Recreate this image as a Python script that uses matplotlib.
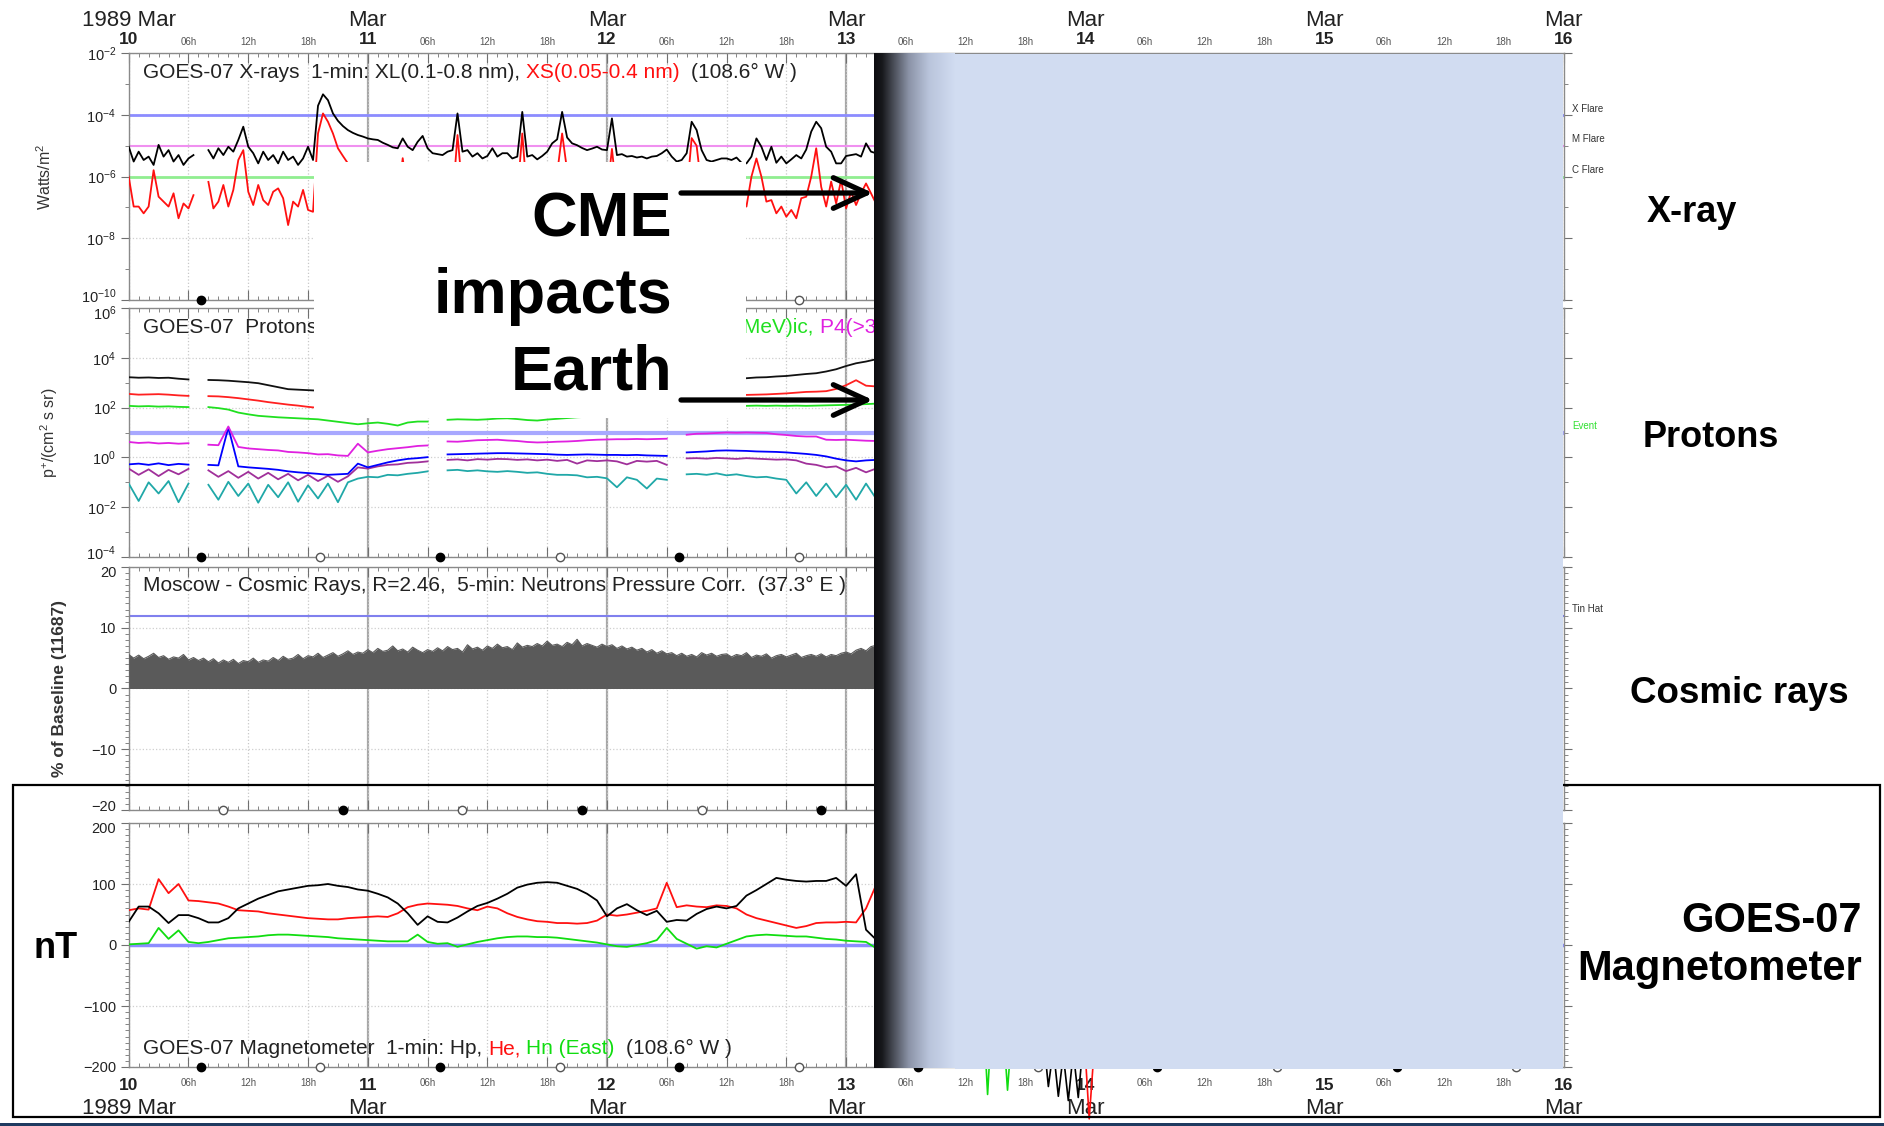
import numpy as np
import matplotlib.pyplot as plt
from matplotlib.patches import Rectangle
from matplotlib.colors import LinearSegmentedColormap
from matplotlib.ticker import NullFormatter, MultipleLocator
from matplotlib.transforms import ScaledTranslation

plt.rcParams['font.family'] = ['Liberation Sans', 'DejaVu Sans']
plt.rcParams['mathtext.fontset'] = 'custom'
plt.rcParams['mathtext.rm'] = 'Liberation Sans'
plt.rcParams['mathtext.it'] = 'Liberation Sans:italic'
plt.rcParams['mathtext.bf'] = 'Liberation Sans:bold'

nan = np.nan

# GOES-07 X-rays, log10(W/m^2), every 30 min from 1989-03-10 00 UT
xl_log = [-5.03, -5.51, -5.19, -5.46, -5.35, -5.62, -4.97, -5.35, -5.14, -5.51, -5.30, -5.62,
          -5.41, -5.30, nan, nan, -5.14, -5.41, -5.08, -5.30, -5.03, -5.19, -4.81, -4.38,
          -5.03, -5.24, -5.57, -5.19, -5.46, -5.30, -5.57, -5.19, -5.46, -5.35, -5.62, -5.41,
          -5.03, -5.46, -3.70, -3.33, -3.52, -3.95, -4.19, -4.36, -4.49, -4.58, -4.65, -4.70,
          -4.76, -4.79, -4.81, -4.90, -4.97, -5.05, -5.08, -4.76, -5.03, -5.14, -4.87, -4.68,
          -5.08, -5.24, -5.27, -5.30, -5.19, -5.14, -3.95, -5.19, -5.14, -5.35, -5.24, -5.41,
          -5.33, -5.08, -5.35, -5.24, -5.24, -5.41, -5.35, -3.90, -5.35, -5.30, -5.44, -5.33,
          -5.19, -4.92, -4.79, -3.90, -4.73, -4.92, -4.98, -5.07, -5.14, -5.09, -5.03, -5.12,
          -5.14, -4.11, -5.30, -5.27, -5.35, -5.33, -5.38, -5.35, -5.41, -5.35, -5.33, -5.24,
          -5.12, -5.35, -5.51, -5.46, -5.24, -4.22, -4.49, -5.14, -5.46, -5.51, -5.46, -5.41,
          -5.41, -5.46, -5.38, -5.55, -5.57, -5.35, -4.76, -5.03, -5.46, -5.03, -5.55, -5.35,
          -5.57, -5.44, -5.30, -5.41, -5.12, -4.54, -4.22, -4.43, -5.03, -5.19, -5.57, -5.57,
          -5.33, -5.30, -5.27, -5.35, -4.92, -5.19, -5.24, -5.30, -5.20]
xs_log = [-6.00, -6.97, -6.97, -7.19, -6.97, -5.79, -6.65, -6.81, -6.97, -6.54, -7.35, -6.87,
          -7.03, -6.60, nan, nan, -6.17, -7.03, -6.81, -6.27, -6.97, -6.43, -5.46, -5.14,
          -6.49, -6.92, -6.27, -6.76, -6.92, -6.49, -6.38, -6.70, -7.57, -6.81, -6.97, -6.43,
          -7.08, -7.14, -4.60, -3.95, -4.22, -4.60, -5.08, -5.33, -5.57, -5.80, -6.00, -6.20,
          -6.35, -6.50, -6.62, -6.45, -6.70, -6.58, -6.75, -5.40, -6.60, -6.82, -6.55, -5.90,
          -6.70, -6.85, -6.60, -6.90, -6.65, -6.80, -4.65, -6.50, -6.72, -6.90, -6.60, -6.85,
          -6.70, -6.55, -6.80, -6.62, -6.75, -6.90, -6.60, -4.60, -6.70, -6.85, -6.58, -6.72,
          -6.40, -6.10, -5.90, -4.60, -5.80, -6.20, -6.40, -6.55, -6.60, -6.75, -6.50, -6.70,
          -6.60, -5.10, -6.65, -6.80, -6.70, -6.90, -6.75, -6.85, -6.60, -6.80, -6.95, -6.70,
          -6.55, -6.85, -7.00, -6.90, -6.60, -4.75, -5.00, -6.40, -6.85, -7.00, -6.90, -6.95,
          -6.80, -6.95, -7.05, -6.90, -6.97, -6.00, -5.41, -6.00, -6.81, -6.76, -7.19, -6.97,
          -7.30, -7.08, -7.35, -6.70, -6.65, -6.00, -5.08, -6.33, -6.97, -6.16, -6.87, -6.11,
          -7.03, -6.49, -6.92, -6.54, -6.22, -6.54, -6.87, -6.60, -6.70]

# GOES-07 protons P1..P7, log10(p+/(cm2 s sr)), hourly
p1_log = [3.22, 3.20, 3.21, 3.19, 3.20, 3.16, 3.13, nan, 3.11, 3.10, 3.08, 3.05,
          3.02, 2.98, 2.90, 2.82, 2.74, 2.72, 2.70, 2.68, 2.62, 2.55, 2.50, 2.46,
          2.44, 2.42, 2.40, 2.38, 2.37, 2.36, 2.35, nan, 2.40, 2.42, 2.44, 2.46,
          2.48, 2.50, 2.52, 2.54, 2.55, 2.56, 2.58, 2.60, 2.62, 2.64, 2.66, 2.68,
          2.70, 2.74, 2.78, 2.82, 2.86, 2.90, 2.94, nan, 3.00, 3.04, 3.08, 3.10,
          3.12, 3.15, 3.18, 3.21, 3.22, 3.25, 3.27, 3.31, 3.35, 3.38, 3.45, 3.54,
          3.67, 3.78, 3.85, 3.94, 3.98]
p2_log = [2.55, 2.52, 2.53, 2.54, 2.52, 2.49, 2.47, nan, 2.46, 2.45, 2.42, 2.38,
          2.33, 2.28, 2.22, 2.17, 2.12, 2.08, 2.03, 1.99, 1.95, 1.92, 1.90, 1.88,
          1.86, 1.85, 1.84, 1.83, 1.83, 1.84, 1.85, nan, 1.90, 1.92, 1.95, 1.97,
          2.00, 2.02, 2.04, 2.06, 2.08, 2.10, 2.12, 2.14, 2.16, 2.18, 2.20, 2.22,
          2.24, 2.26, 2.28, 2.30, 2.32, 2.34, 2.36, nan, 2.40, 2.42, 2.44, 2.46,
          2.48, 2.50, 2.51, 2.52, 2.53, 2.55, 2.57, 2.60, 2.63, 2.64, 2.66, 2.75,
          2.90, 3.10, 2.88, 2.85, 2.86]
p3_log = [2.07, 2.05, 2.06, 2.04, 2.05, 2.03, 2.02, nan, 2.02, 1.98, 1.92, 1.80,
          1.73, 1.67, 1.64, 1.61, 1.59, 1.57, 1.55, 1.53, 1.48, 1.43, 1.38, 1.33,
          1.37, 1.40, 1.35, 1.28, 1.40, 1.44, 1.44, nan, 1.51, 1.53, 1.52, 1.51,
          1.53, 1.56, 1.57, 1.54, 1.50, 1.48, 1.52, 1.55, 1.58, 1.61, 1.63, 1.65,
          1.70, 1.75, 1.80, 1.85, 1.90, 1.95, 2.00, nan, 2.02, 2.03, 2.04, 2.05,
          2.06, 2.06, 2.07, 2.08, 2.07, 2.08, 2.07, 2.08, 2.07, 2.08, 2.09, 2.10,
          2.11, 2.12, 2.14, 2.16, 2.17]
p4_log = [0.62, 0.58, 0.60, 0.56, 0.58, 0.55, 0.57, nan, 0.51, 0.49, 1.24, 0.42,
          0.36, 0.33, 0.30, 0.28, 0.22, 0.20, 0.17, 0.12, 0.13, 0.08, 0.06, 0.55,
          0.20, 0.27, 0.33, 0.37, 0.41, 0.46, 0.48, nan, 0.64, 0.63, 0.66, 0.69,
          0.70, 0.71, 0.68, 0.66, 0.62, 0.60, 0.61, 0.63, 0.64, 0.66, 0.69, 0.71,
          0.72, 0.73, 0.73, 0.74, 0.73, 0.74, 0.75, nan, 0.91, 0.95, 0.96, 0.98,
          1.00, 0.99, 1.00, 0.99, 0.98, 0.93, 0.90, 0.86, 0.84, 0.84, 0.71, 0.70,
          0.71, 0.69, 0.67, 0.66, 0.66]
p5_log = [-0.28, -0.25, -0.30, -0.24, -0.31, -0.26, -0.29, nan, -0.30, -0.32, 1.20, -0.36,
          -0.40, -0.43, -0.46, -0.50, -0.56, -0.60, -0.63, -0.66, -0.70, -0.68, -0.66, -0.25,
          -0.40, -0.30, -0.20, -0.12, -0.06, -0.03, 0.01, nan, 0.12, 0.13, 0.14, 0.15,
          0.16, 0.17, 0.17, 0.16, 0.15, 0.14, 0.13, 0.11, 0.10, 0.11, 0.12, 0.11,
          0.10, 0.10, 0.09, 0.10, 0.08, 0.07, 0.06, nan, 0.20, 0.22, 0.24, 0.27,
          0.28, 0.27, 0.26, 0.24, 0.23, 0.22, 0.20, 0.17, 0.14, 0.10, 0.04, -0.05,
          -0.12, -0.16, -0.12, -0.10, -0.11]
p6_log = [-0.45, -0.70, -0.48, -0.75, -0.50, -0.68, -0.46, nan, -0.52, -0.78, -0.55, -0.82,
          -0.58, -0.85, -0.62, -0.88, -0.66, -0.92, -0.70, -0.95, -0.74, -0.98, -0.76, -0.40,
          -0.45, -0.36, -0.30, -0.28, -0.22, -0.20, -0.16, nan, -0.10, -0.08, -0.12, -0.07,
          -0.09, -0.06, -0.07, -0.10, -0.08, -0.12, -0.09, -0.14, -0.10, -0.25, -0.12, -0.15,
          -0.12, -0.16, -0.28, -0.14, -0.17, -0.14, -0.30, nan, -0.04, -0.03, -0.05, -0.02,
          -0.04, -0.06, -0.03, -0.05, -0.07, -0.09, -0.08, -0.12, -0.25, -0.30, -0.40, -0.36,
          -0.55, -0.42, -0.60, -0.45, -0.58]
p7_log = [-1.05, -1.75, -1.00, -1.45, -0.95, -1.80, -1.05, nan, -1.10, -1.70, -0.98, -1.55,
          -1.05, -1.82, -1.10, -1.60, -1.00, -1.78, -1.12, -1.65, -1.05, -1.80, -1.00, -0.85,
          -0.78, -0.80, -0.70, -0.72, -0.66, -0.62, -0.56, nan, -0.52, -0.50, -0.55, -0.52,
          -0.56, -0.58, -0.55, -0.58, -0.62, -0.60, -0.66, -0.70, -0.70, -0.72, -0.80, -0.78,
          -0.84, -1.20, -0.80, -0.90, -1.25, -0.85, -0.90, nan, -0.68, -0.66, -0.70, -0.64,
          -0.72, -0.68, -0.75, -0.80, -0.78, -0.85, -0.90, -1.45, -1.00, -1.55, -1.05, -1.60,
          -1.10, -1.70, -1.05, -1.65, -1.10]

# Moscow neutron monitor, % of baseline, every 30 min
cosmic_pct = [5.6, 5.0, 5.5, 4.9, 5.3, 5.8, 5.1, 5.4, 4.8, 5.2, 5.0, 5.6, 4.7, 5.1, 4.6, 5.0, 4.4, 4.9, 4.2, 4.7, 4.3,
              4.8, 4.1, 4.6, 4.4, 5.0, 4.3, 4.7, 4.5, 5.1, 4.6, 5.3, 4.8, 5.0, 5.6, 4.9, 5.4, 5.2, 5.8, 5.1, 5.5,
              5.9, 5.3, 5.7, 6.2, 5.6, 6.0, 5.8, 6.4, 5.9, 6.6, 6.1, 6.3, 7.0, 6.2, 6.5, 6.0, 6.8, 6.3, 5.9, 6.4,
              6.1, 6.7, 6.2, 6.9, 6.4, 6.6, 6.0, 7.2, 6.5, 6.8, 6.3, 7.0, 6.6, 7.3, 6.7, 6.9, 6.4, 7.5, 6.8, 7.1,
              6.9, 7.4, 7.0, 7.8, 7.1, 7.3, 6.9, 7.6, 7.2, 8.1, 7.0, 7.4, 7.1, 6.8, 7.3, 6.9, 7.2, 6.6, 7.0, 6.5,
              6.8, 6.3, 6.6, 6.0, 6.4, 5.8, 6.2, 5.7, 5.9, 5.4, 5.8, 5.3, 5.6, 5.2, 5.9, 5.5, 5.8, 5.3, 5.6, 5.7,
              5.2, 5.6, 5.4, 5.9, 5.1, 5.5, 5.3, 5.7, 5.0, 5.4, 5.6, 5.2, 5.5, 5.8, 5.1, 5.4, 5.6, 5.3, 5.7, 5.2,
              5.6, 5.4, 5.8, 6.0, 5.7, 6.3, 6.6, 6.2, 6.9, 7.1, 6.8, 7.3]

# GOES-07 magnetometer, nT, hourly
hp_nt = [38, 63, 63, 52, 36, 49, 49, 44, 37, 37, 44, 60,
         68, 76, 82, 88, 91, 94, 97, 98, 100, 97, 95, 91,
         89, 84, 78, 68, 52, 33, 47, 38, 37, 45, 55, 64,
         69, 76, 84, 94, 99, 102, 103, 102, 97, 92, 84, 73,
         47, 60, 67, 57, 49, 56, 38, 41, 40, 51, 59, 63,
         60, 64, 81, 90, 100, 110, 107, 105, 104, 105, 105, 110,
         97, 116, 25, 9, -10]
he_nt = [57, 60, 58, 108, 85, 100, 73, 72, 70, 68, 63, 57,
         56, 55, 52, 50, 48, 46, 44, 43, 42, 42, 44, 45,
         46, 47, 46, 52, 62, 66, 68, 67, 66, 64, 60, 57,
         63, 60, 52, 46, 42, 39, 38, 36, 36, 35, 36, 40,
         50, 48, 50, 53, 56, 60, 102, 62, 65, 63, 62, 65,
         64, 60, 50, 44, 40, 36, 32, 28, 31, 36, 37, 37,
         38, 37, 60, 98, 90]
hn_nt = [1, 2, 3, 28, 10, 24, 5, 3, 5, 8, 11, 12,
         13, 14, 16, 17, 17, 16, 15, 14, 13, 11, 10, 9,
         8, 7, 6, 6, 6, 17, 5, 2, 3, -3, 1, 5,
         8, 11, 13, 14, 14, 13, 13, 12, 10, 8, 6, 4,
         1, -2, -3, 0, 3, 8, 28, 10, 2, -6, -2, -4,
         2, 8, 14, 16, 17, 16, 15, 14, 14, 12, 10, 9,
         7, 6, 5, -5, -10]

# storm of 13-14 Mar: samples running off the bottom of the magnetometer scale
storm_hn_hr = [85.8, 86.2, 86.6, 87.8, 88.2, 88.6]
storm_hn = [-120, -245, -130, -140, -238, -150]
storm_hp_hr = [91.8, 92.3, 92.8, 93.3, 93.8, 94.3, 94.8, 95.3, 95.8]
storm_hp = [-150, -232, -170, -248, -180, -255, -175, -250, -160]
storm_he_hr = [95.9, 96.4, 96.9]
storm_he = [-150, -285, -170]

# local midnight / noon, hours UT after 10 Mar 00 UT
goes_midnight = [7.24, 31.24, 55.24, 79.24, 103.24, 127.24]
goes_noon = [19.24, 43.24, 67.24, 91.24, 115.24, 139.24]
moscow_noon = [9.5, 33.5, 57.5, 81.5, 105.5, 129.5]
moscow_midnight = [21.5, 45.5, 69.5, 93.5, 117.5, 141.5]

days = [10, 11, 12, 13, 14, 15, 16]

t_half = 10 + np.arange(len(xl_log)) / 48
t_hour = 10 + np.arange(len(p1_log)) / 24
t_cr = 10 + np.arange(len(cosmic_pct)) / 48


def hr2day(h):
    return 10 + np.asarray(h) / 24


W, H = 1884, 1126
fig = plt.figure(figsize=(W / 100, H / 100), dpi=100)


def panel(top, bottom):
    left, right = 128.7, 1563.5
    return fig.add_axes([left / W, 1 - bottom / H, (right - left) / W, (bottom - top) / H])


ax_x = panel(53.3, 300)
ax_p = panel(308, 557)
ax_c = panel(567, 810)
ax_m = panel(823, 1067)

six_hourly = np.arange(10, 16.001, 0.25)
hourly = np.arange(10, 16.001, 1 / 24)


def hour_label(t):
    h = int(round((t - np.floor(t + 1e-9)) * 24))
    return str(int(round(t))) if h == 0 else f'{h:02d}h'


for ax in (ax_x, ax_p, ax_c, ax_m):
    ax.set_xlim(10, 16)
    ax.set_xticks(six_hourly, labels=[hour_label(t) for t in six_hourly])
    ax.set_xticks(hourly, minor=True)
    ax.tick_params(axis='x', which='both', direction='in', top=True, bottom=True,
                   labeltop=False, labelbottom=False, color='#707070')
    ax.tick_params(axis='x', which='major', length=7)
    ax.tick_params(axis='x', which='minor', length=3)
    ax.tick_params(axis='y', which='both', direction='out', left=True, right=True,
                   labelsize=10.5, labelcolor='#222222', color='#707070', pad=3)
    ax.tick_params(axis='y', which='major', length=6)
    ax.tick_params(axis='y', which='minor', length=3)
    for s in ax.spines.values():
        s.set_color('#8a8a8a')
        s.set_linewidth(1.0)
    ax.grid(axis='x', which='major', ls=':', color='#c8c8c8', lw=0.9)
    ax.grid(axis='y', which='major', ls=':', color='#cfcfcf', lw=0.9)
    for d in days[1:-1]:
        ax.axvline(d, color='#a6a6a6', lw=1.6, zorder=1)


def date_labels(ax, side, pad, mpad):
    ax.tick_params(axis='x', which='major', pad=pad,
                   labeltop=(side == 'top'), labelbottom=(side == 'bottom'))
    for tick, t in zip(ax.xaxis.get_major_ticks(), six_hourly):
        lab = tick.label2 if side == 'top' else tick.label1
        if abs(t - round(t)) < 1e-9:
            lab.set_fontsize(12.5)
            lab.set_fontweight('bold')
            lab.set_color('#222222')
        else:
            lab.set_fontsize(7)
            lab.set_color('#555555')
    sec = ax.secondary_xaxis(side)
    sec.set_xticks(days, labels=['1989 Mar'] + ['Mar'] * (len(days) - 1))
    sec.tick_params(axis='x', length=0, pad=mpad, labelsize=16, labelcolor='#222222')
    sec.spines[side].set_visible(False)


date_labels(ax_x, 'top', 4.5, 16)
date_labels(ax_m, 'bottom', 8, 22)


def mark_day_night(ax, midnight, noon):
    tr = ax.get_xaxis_transform()
    ax.plot(hr2day(midnight), np.zeros(len(midnight)), 'o', ms=6, color='black',
            transform=tr, clip_on=False, zorder=6)
    ax.plot(hr2day(noon), np.zeros(len(noon)), 'o', ms=6, mfc='white', mec='#555555',
            mew=1.0, transform=tr, clip_on=False, zorder=6)


def caption(ax, y, parts, size=15):
    text, color, _ = parts[0]
    t = ax.text(0.01, y, text, color=color, transform=ax.transAxes, fontsize=size,
                va='center', ha='left', zorder=7)
    for text, color, spaces in parts[1:]:
        t = ax.annotate(text, xy=(1, 0), xycoords=t, xytext=(spaces * 0.278 * size, 0),
                        textcoords='offset points', va='bottom', ha='left',
                        color=color, fontsize=size, zorder=7)


def side_note(ax, y, text, color='#333333'):
    ax.annotate(text, xy=(1, y), xycoords=('axes fraction', 'data'), xytext=(6, 1),
                textcoords='offset points', va='bottom', ha='left', fontsize=7,
                color=color, annotation_clip=False)


def nudge_end_labels(ax, low=True, high=True):
    # keep end labels of stacked panels from running into each other
    ticks = ax.yaxis.get_major_ticks()
    if low:
        lab = ticks[0].label1
        lab.set_transform(lab.get_transform() + ScaledTranslation(0, 3.5 / 72, fig.dpi_scale_trans))
    if high:
        lab = ticks[-1].label1
        lab.set_transform(lab.get_transform() + ScaledTranslation(0, -3 / 72, fig.dpi_scale_trans))


# X-rays
ax_x.set_yscale('log')
ax_x.set_ylim(1e-10, 1e-2)
ax_x.set_yticks([1e-10, 1e-8, 1e-6, 1e-4, 1e-2],
                labels=['$10^{-10}$', '$10^{-8}$', '$10^{-6}$', '$10^{-4}$', '$10^{-2}$'])
ax_x.set_yticks([1e-9, 1e-7, 1e-5, 1e-3], minor=True)
ax_x.yaxis.set_minor_formatter(NullFormatter())
ax_x.axhline(1e-4, color='#8c8cff', lw=2)
ax_x.axhline(1e-5, color='#f090f0', lw=1.5)
ax_x.axhline(1e-6, color='#90ee90', lw=2)
ax_x.plot(t_half, 10 ** np.array(xl_log), color='black', lw=1.3, zorder=3)
ax_x.plot(t_half, 10 ** np.array(xs_log), color='#ff1010', lw=1.3, zorder=3)
ax_x.set_ylabel('Watts/m$^2$', fontsize=11.5, color='#333333')
ax_x.yaxis.set_label_coords(-0.052, 0.5)
caption(ax_x, 0.924, [('GOES-07 X-rays  1-min: XL(0.1-0.8 nm),', '#222222', 0),
                      ('XS(0.05-0.4 nm)', '#ff1010', 1),
                      ('(108.6° W )', '#222222', 2)])
side_note(ax_x, 1e-4, 'X Flare')
side_note(ax_x, 1e-5, 'M Flare')
side_note(ax_x, 1e-6, 'C Flare')
mark_day_night(ax_x, goes_midnight, goes_noon)
nudge_end_labels(ax_x, high=False)

# Protons
ax_p.set_yscale('log')
ax_p.set_ylim(1e-4, 1e6)
ax_p.set_yticks([1e-4, 1e-2, 1e0, 1e2, 1e4, 1e6],
                labels=['$10^{-4}$', '$10^{-2}$', '$10^{0}$', '$10^{2}$', '$10^{4}$', '$10^{6}$'])
ax_p.set_yticks([1e-3, 1e-1, 1e1, 1e3, 1e5], minor=True)
ax_p.yaxis.set_minor_formatter(NullFormatter())
ax_p.axhline(10, color='#a8a8ff', lw=3)
proton_series = [(p7_log, '#20a8a8'), (p6_log, '#a0309a'), (p5_log, '#0000ff'),
                 (p4_log, '#e020e0'), (p3_log, '#20e020'), (p2_log, '#ff2020'),
                 (p1_log, '#111111')]
for vals, col in proton_series:
    ax_p.plot(t_hour, 10 ** np.array(vals), color=col, lw=1.3, zorder=3)
ax_p.set_ylabel('p$^{+}$/(cm$^2$ s sr)', fontsize=11.5, color='#333333')
ax_p.yaxis.set_label_coords(-0.048, 0.5)
caption(ax_p, 0.92, [('GOES-07  Protons  5-min: P1(>1 MeV)ic,', '#222222', 0),
                     ('P2(>5 MeV)ic,', '#ff2020', 1),
                     ('P3(>10 MeV)ic,', '#20e020', 1),
                     ('P4(>30 MeV)ic,', '#e020e0', 1),
                     ('P5(>50 MeV)ic,', '#0000ff', 1),
                     ('P6(>60 MeV)ic,', '#a0309a', 1),
                     ('P7(>100 MeV)ic', '#20a8a8', 1)])
side_note(ax_p, 10, 'Event', color='#30e030')
mark_day_night(ax_p, goes_midnight, goes_noon)
nudge_end_labels(ax_p)

# Cosmic rays
ax_c.set_ylim(-20, 20)
ax_c.set_yticks([-20, -10, 0, 10, 20])
ax_c.yaxis.set_minor_locator(MultipleLocator(1))
ax_c.axhline(12, color='#8080ee', lw=1.5)
ax_c.fill_between(t_cr, 0, cosmic_pct, color='#5a5a5a', lw=0, zorder=3)
ax_c.plot(t_cr, cosmic_pct, color='#5a5a5a', lw=0.8, zorder=3)
ax_c.set_ylabel('% of Baseline (11687)', fontsize=12.5, fontweight='bold', color='#333333')
ax_c.yaxis.set_label_coords(-0.043, 0.5)
caption(ax_c, 0.926, [('Moscow - Cosmic Rays, R=2.46,  5-min: Neutrons Pressure Corr.  (37.3° E )',
                       '#222222', 0)])
side_note(ax_c, 12, 'Tin Hat')
mark_day_night(ax_c, moscow_midnight, moscow_noon)
nudge_end_labels(ax_c)

# Magnetometer
ax_m.set_ylim(-200, 200)
ax_m.set_yticks([-200, -100, 0, 100, 200])
ax_m.yaxis.set_minor_locator(MultipleLocator(10))
ax_m.axhline(0, color='#8c8cff', lw=2.5)
ax_m.plot(t_hour, hn_nt, color='#10dd10', lw=1.3, zorder=3)
ax_m.plot(t_hour, he_nt, color='#ff1010', lw=1.3, zorder=3)
ax_m.plot(t_hour, hp_nt, color='black', lw=1.3, zorder=3)
ax_m.plot(hr2day(storm_hn_hr), storm_hn, color='#10dd10', lw=1.2, clip_on=False, zorder=3)
ax_m.plot(hr2day(storm_hp_hr), storm_hp, color='black', lw=1.2, clip_on=False, zorder=3)
ax_m.plot(hr2day(storm_he_hr), storm_he, color='#ff1010', lw=1.2, clip_on=False, zorder=3)
caption(ax_m, 0.074, [('GOES-07 Magnetometer  1-min: Hp,', '#222222', 0),
                      ('He,', '#ff1010', 1),
                      ('Hn (East)', '#10dd10', 1),
                      ('(108.6° W )', '#222222', 2)])
mark_day_night(ax_m, goes_midnight, goes_noon)
nudge_end_labels(ax_m, low=False)

# annotation layer in pixel coordinates
ov = fig.add_axes([0, 0, 1, 1], zorder=10)
ov.patch.set_alpha(0)
ov.add_patch(Rectangle((13, 785), 1867, 332, fill=False, ec='black', lw=1.6, zorder=1))
ov.add_patch(Rectangle((314, 162), 432, 256, fc='white', ec='none', zorder=2))
band = LinearSegmentedColormap.from_list(
    'band', [(0.0, '#0d0d10'), (0.1, '#17181c'), (0.2, '#3b3e46'),
             (0.43, '#8b93a7'), (0.68, '#b9c4db'), (1.0, '#d1dcf1')])
ov.imshow(np.linspace(0, 1, 256)[None, :], cmap=band, extent=(874, 955, 1068.5, 53.5),
          aspect='auto', interpolation='bilinear', zorder=3)
ov.add_patch(Rectangle((955, 53.5), 1562.5 - 955, 1015, fc='#d1dcf1', ec='none', zorder=3))
ov.add_patch(Rectangle((0, 1122.5), W, 3.5, fc='#1f3a60', ec='none', zorder=3))

big = dict(fontweight='bold', va='baseline', color='black', zorder=5)
ov.text(672, 236.7, 'CME', ha='right', fontsize=45.5, **big)
ov.text(672, 313, 'impacts', ha='right', fontsize=45.5, **big)
ov.text(672, 390, 'Earth', ha='right', fontsize=45.5, **big)
for y in (193, 400):
    ov.annotate('', xy=(873, y), xytext=(681, y),
                arrowprops=dict(arrowstyle='->,head_length=2.4,head_width=1.1', lw=3.8,
                                color='black', shrinkA=0, shrinkB=0, mutation_scale=10),
                zorder=5)
ov.text(1647, 222, 'X-ray', ha='left', fontsize=26, **big)
ov.text(1643, 447, 'Protons', ha='left', fontsize=26, **big)
ov.text(1630, 703, 'Cosmic rays', ha='left', fontsize=26.5, **big)
ov.text(1862, 932, 'GOES-07', ha='right', fontsize=30, **big)
ov.text(1862, 980, 'Magnetometer', ha='right', fontsize=30, **big)
ov.text(34, 958, 'nT', ha='left', fontsize=26, **big)
ov.set_xlim(0, W)
ov.set_ylim(H, 0)
ov.axis('off')

fig.savefig('out.png', dpi=100)
